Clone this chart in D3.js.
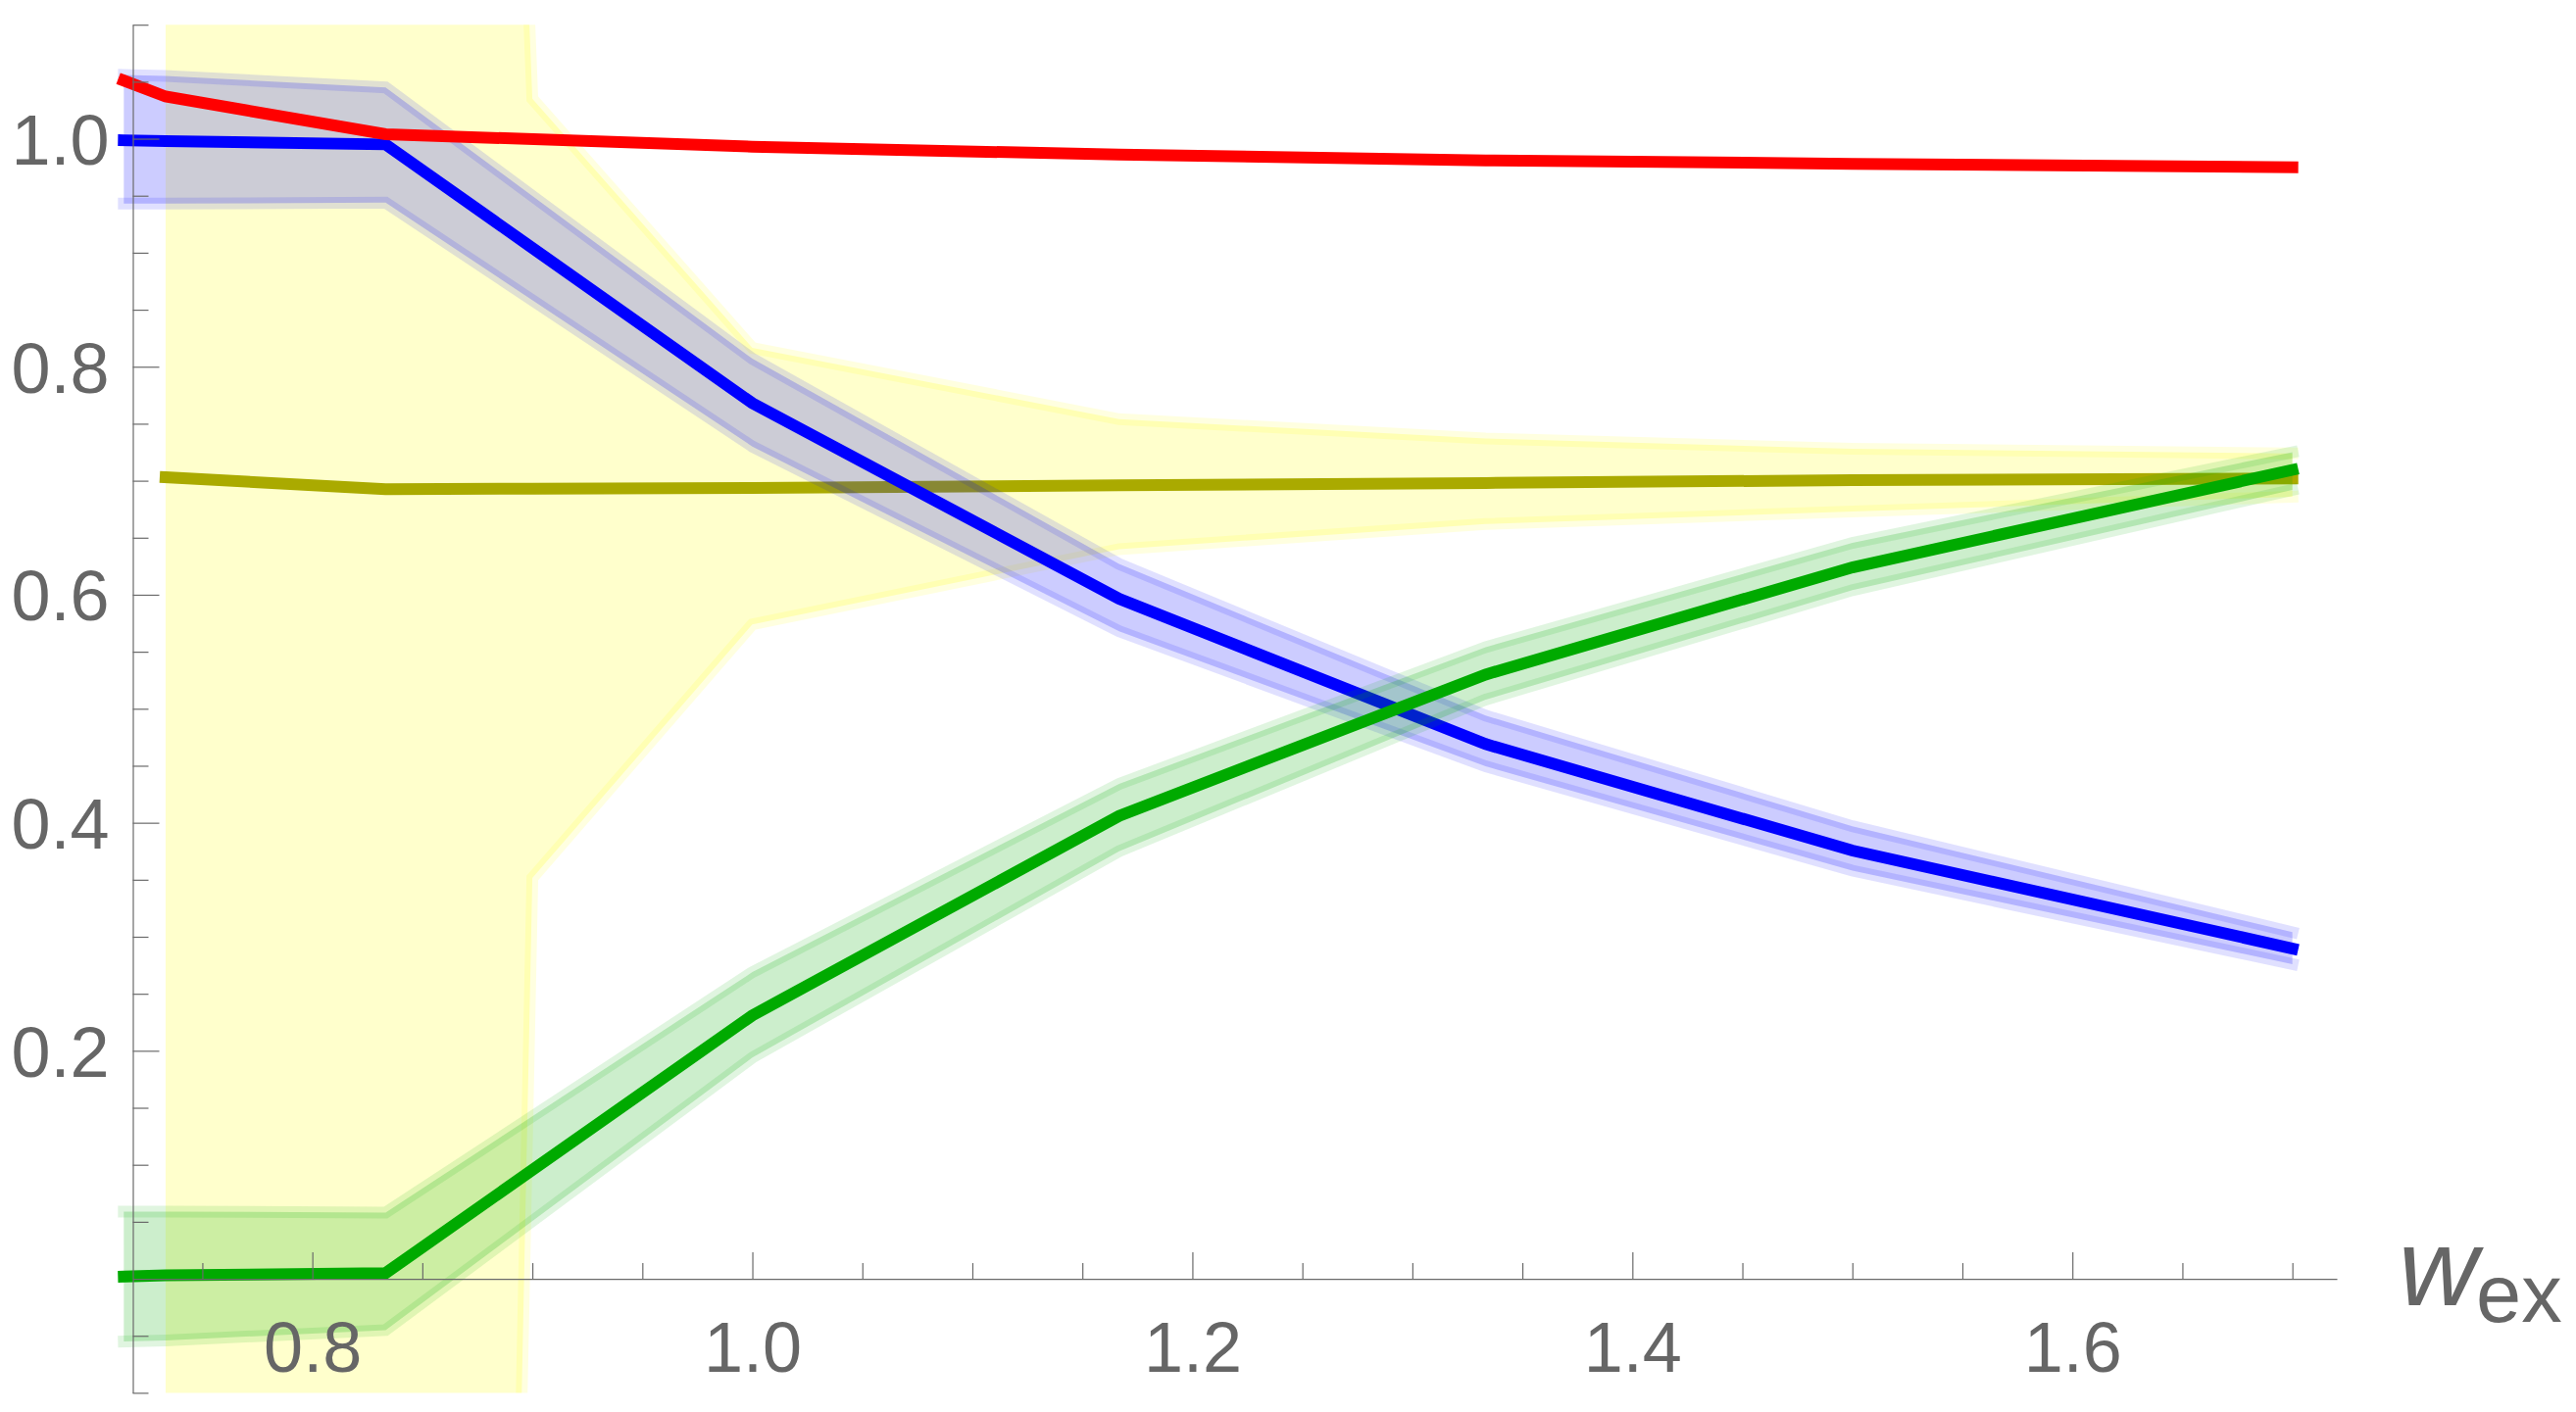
<!DOCTYPE html>
<html lang="en">
<head>
    <meta charset="UTF-8">
    <script src="https://d3js.org/d3.v7.min.js"></script>
    <title>w_ex plot</title>
    <style>
        body { margin: 0; background: #fff; }
        svg { display: block; }
    </style>
</head>
<body>
    <svg></svg>
    <script>
        // values
        const xRed   = [0.7143, 0.7333, 0.8333, 1.0, 1.1667, 1.3333, 1.5, 1.7];
        const red    = [1.051, 1.037, 1.004, 0.993, 0.986, 0.981, 0.978, 0.975];

        const xBlue  = [0.7143, 0.7333, 0.8333, 1.0, 1.1667, 1.3333, 1.5, 1.7];
        const blue   = [0.9986, 0.998, 0.995, 0.768, 0.5965, 0.469, 0.3756, 0.2897];
        const blueHi = [1.056, 1.055, 1.045, 0.807, 0.627, 0.494, 0.397, 0.304];
        const blueLo = [0.943, 0.943, 0.944, 0.730, 0.568, 0.4495, 0.358, 0.276];

        const xGreen  = [0.7143, 0.7333, 0.8333, 1.0, 1.1667, 1.3333, 1.5, 1.7];
        const green   = [0.002, 0.003, 0.005, 0.231, 0.406, 0.530, 0.624, 0.7095];
        const greenHi = [0.059, 0.059, 0.058, 0.269, 0.434, 0.554, 0.6455, 0.725];
        const greenLo = [-0.055, -0.054, -0.045, 0.194, 0.375, 0.508, 0.604, 0.692];

        const xOlive   = [0.7333, 0.8333, 0.9, 1.0, 1.1667, 1.3333, 1.5, 1.7];
        const olive    = [0.703, 0.6926, 0.693, 0.6936, 0.696, 0.698, 0.7005, 0.702];
        const yellowHi = [4.3, 4.3, 1.035, 0.8165, 0.754, 0.737, 0.728, 0.724];
        const yellowLo = [-5.9, -5.9, 0.3515, 0.574, 0.640, 0.662, 0.673, 0.686];

        const xMajor = [0.8, 1.0, 1.2, 1.4, 1.6];
        const yMajor = [0.2, 0.4, 0.6, 0.8, 1.0];

        const W = 2628, H = 1441;
        const svg = d3.select('svg').attr('width', W).attr('height', H);

        const x = d3.scaleLinear().domain([0.7184, 1.7202]).range([135.5, 2384]);
        const y = d3.scaleLinear().domain([-0.1, 1.1]).range([1421.4, 25.2]);

        const axisColor = '#6a6a6a';
        const font = '"Liberation Sans", Arial, sans-serif';

        // minor ticks every 0.05, skipping the major ones
        const step = (a, b) => d3.range(Math.round(a * 20), Math.round(b * 20) + 1).map(k => k / 20);
        const isMajor = (v, list) => list.some(m => Math.abs(m - v) < 1e-6);
        const xMinor = step(0.75, 1.7).filter(v => !isMajor(v, xMajor));
        const yMinor = step(-0.1, 1.1).filter(v => !isMajor(v, yMajor) && Math.abs(v) > 1e-6);

        svg.append('clipPath').attr('id', 'plot')
            .append('rect')
            .attr('x', 0).attr('y', y(1.1))
            .attr('width', W).attr('height', y(-0.1) - y(1.1));

        const plot = svg.append('g').attr('clip-path', 'url(#plot)');

        const zip = (xs, ys) => xs.map((v, i) => ({ x: v, y: ys[i] }));
        const line = d3.line().x(d => x(d.x)).y(d => y(d.y));
        const area = d3.area().x(d => x(d.x)).y0(d => y(d.lo)).y1(d => y(d.hi));

        function band(xs, lo, hi, color) {
            const pts = xs.map((v, i) => ({ x: v, lo: lo[i], hi: hi[i] }));
            plot.append('path')
                .attr('d', area(pts))
                .attr('fill', color)
                .attr('fill-opacity', 0.2);
            [lo, hi].forEach(edge => {
                plot.append('path')
                    .attr('d', line(zip(xs, edge)))
                    .attr('fill', 'none')
                    .attr('stroke', color)
                    .attr('stroke-opacity', 0.12)
                    .attr('stroke-width', 12)
                    .attr('stroke-linecap', 'square');
            });
        }

        function mainLine(xs, ys, color) {
            plot.append('path')
                .attr('d', line(zip(xs, ys)))
                .attr('fill', 'none')
                .attr('stroke', color)
                .attr('stroke-width', 12)
                .attr('stroke-linecap', 'square');
        }

        band(xOlive, yellowLo, yellowHi, '#ffff00');
        mainLine(xOlive, olive, '#aaaa00');
        band(xBlue, blueLo, blueHi, '#0000ff');
        mainLine(xBlue, blue, '#0000ff');
        band(xGreen, greenLo, greenHi, '#00aa00');
        mainLine(xGreen, green, '#00aa00');
        mainLine(xRed, red, '#ff0000');

        // x axis (ticks point up into the plot)
        const gx = svg.append('g').attr('transform', `translate(0,${y(0)})`);
        gx.call(d3.axisBottom(x).tickValues(xMinor).tickSizeInner(-16).tickSizeOuter(0).tickFormat(''));
        const gxMajor = svg.append('g').attr('transform', `translate(0,${y(0)})`)
            .call(d3.axisBottom(x).tickValues(xMajor).tickSizeInner(-27).tickSizeOuter(0).tickFormat(d3.format('.1f')));
        gxMajor.select('.domain').remove();
        gxMajor.selectAll('text').attr('y', 95).attr('dy', null);

        // y axis (ticks point right)
        const gy = svg.append('g').attr('transform', `translate(${x(0.7184)},0)`);
        gy.call(d3.axisLeft(y).tickValues(yMinor).tickSizeInner(-16).tickSizeOuter(0).tickFormat(''));
        const gyMajor = svg.append('g').attr('transform', `translate(${x(0.7184)},0)`)
            .call(d3.axisLeft(y).tickValues(yMajor).tickSizeInner(-27).tickSizeOuter(0).tickFormat(d3.format('.1f')));
        gyMajor.select('.domain').remove();
        gyMajor.selectAll('text').attr('x', -24).attr('dy', 26);

        svg.selectAll('.domain, .tick line').attr('stroke', axisColor).attr('stroke-width', 1.2);
        svg.selectAll('.tick text')
            .attr('fill', '#666666')
            .attr('font-family', font)
            .attr('font-size', 72);

        // axis label w_ex
        const lab = svg.append('text')
            .attr('x', 2447).attr('y', 1332)
            .attr('fill', '#666666')
            .attr('font-family', font);
        lab.append('tspan').attr('font-style', 'italic').attr('font-size', 112).text('w');
        lab.append('tspan').attr('x', 2526).attr('y', 1349).attr('font-size', 83).text('ex');
    </script>
</body>
</html>
